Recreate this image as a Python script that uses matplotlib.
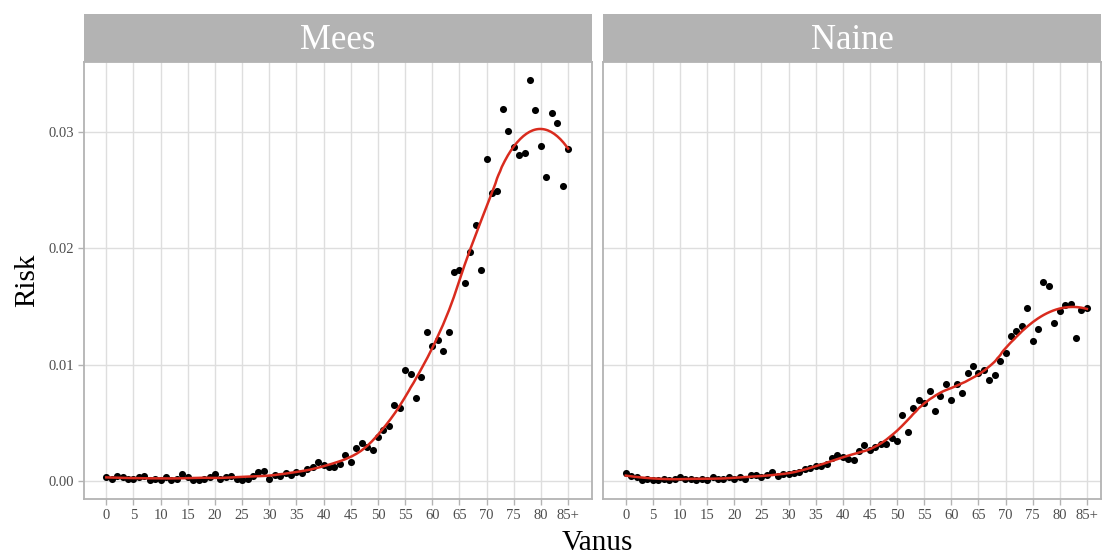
import numpy as np
import matplotlib.pyplot as plt

plt.rcParams['font.family'] = ['Liberation Serif', 'DejaVu Serif']

ages = np.arange(86)
tick_ages = np.arange(0, 86, 5)
tick_labels = [str(a) for a in tick_ages[:-1]] + ['85+']
panels = ['Mees', 'Naine']

mees_risk = [
    .0003, .0002, .0004, .0003, .0002, .0002, .0003, .0004, .0001, .0002,
    .0001, .0003, .0001, .0002, .0006, .0003, .0001, .0001, .0002, .0003,
    .0006, .0002, .0003, .0004, .0002, .0001, .0002, .0004, .0008, .0009,
    .0002, .0005, .0004, .0007, .0005, .0008, .0007, .0010, .0012, .0016,
    .0014, .0012, .0012, .0015, .0022, .0016, .0028, .0033, .0029, .0027,
    .0038, .0044, .0047, .0065, .0063, .0095, .0092, .0071, .0089, .0128,
    .0116, .0121, .0112, .0128, .0180, .0181, .0170, .0197, .0220, .0181,
    .0277, .0248, .0249, .0320, .0301, .0287, .0280, .0282, .0345, .0319,
    .0288, .0261, .0316, .0308, .0254, .0285,
]
naine_risk = [
    .0007, .0004, .0003, .0001, .0002, .0001, .0001, .0002, .0001, .0002,
    .0003, .0002, .0002, .0001, .0002, .0001, .0003, .0002, .0002, .0003,
    .0002, .0003, .0002, .0005, .0005, .0003, .0005, .0008, .0004, .0006,
    .0006, .0007, .0008, .0010, .0011, .0013, .0013, .0015, .0020, .0022,
    .0021, .0019, .0018, .0026, .0031, .0027, .0029, .0032, .0032, .0037,
    .0034, .0057, .0042, .0063, .0070, .0067, .0077, .0060, .0073, .0083,
    .0070, .0083, .0076, .0093, .0099, .0093, .0095, .0087, .0091, .0103,
    .0110, .0125, .0129, .0133, .0149, .0120, .0131, .0171, .0168, .0136,
    .0146, .0151, .0152, .0123, .0147, .0149,
]


def loess(x, y, xs, span=0.28, deg=2, iters=1):
    # local quadratic fit, tricube weights, bisquare robustness steps
    x = np.asarray(x, float)
    y = np.asarray(y, float)
    k = int(np.ceil(span * len(x)))
    rob = np.ones_like(y)

    def fit_at(pts):
        out = []
        for x0 in pts:
            d = np.abs(x - x0)
            h = np.sort(d)[k - 1]
            w = np.clip(1 - (d / h) ** 3, 0, None) ** 3 * rob
            c = np.polyfit(x - x0, y, deg, w=np.sqrt(w))
            out.append(c[-1])
        return np.array(out)

    for _ in range(iters):
        res = y - fit_at(x)
        s = np.median(np.abs(res))
        rob = np.clip(1 - (res / (6 * s)) ** 2, 0, None) ** 2
    return fit_at(xs)


fig = plt.figure(figsize=(11.06, 5.58), dpi=100)
W, H = 1106, 558
# panel boxes in pixels: left, right
boxes = [(84, 592), (603, 1101)]
top, bottom = 62, 499
xlims = [(-4.1, 89.4), (-4.2, 87.6)]

for i, (name, risk) in enumerate(zip(panels, [mees_risk, naine_risk])):
    l, r = boxes[i]
    ax = fig.add_axes([l / W, 1 - bottom / H, (r - l) / W, (bottom - top) / H])
    ax.set_xlim(*xlims[i])
    ax.set_ylim(-0.00155, 0.03602)
    ax.grid(True, color='#DEDEDE', linewidth=1.0)
    ax.set_axisbelow(True)
    for s in ax.spines.values():
        s.set_color('#B3B3B3')
        s.set_linewidth(1.3)
    ax.set_xticks(tick_ages)
    ax.set_xticklabels(tick_labels)
    ax.set_yticks([0, 0.01, 0.02, 0.03])
    if i == 0:
        ax.set_yticklabels(['0.00', '0.01', '0.02', '0.03'])
        ax.set_ylabel('Risk', fontsize=21, labelpad=6)
    else:
        ax.tick_params(axis='y', left=False, labelleft=False)
    ax.tick_params(colors='#B3B3B3', labelcolor='#4D4D4D', labelsize=10.5,
                   length=4, width=1, pad=3)

    ax.scatter(ages, risk, s=26, color='black', zorder=3, linewidths=0)
    xs = np.linspace(0, 85, 300)
    ax.plot(xs, loess(ages, risk, xs), color='#D92B1E', linewidth=1.8, zorder=4)

    # facet strip
    sax = fig.add_axes([l / W, 1 - top / H, (r - l) / W, 48 / H])
    sax.set_facecolor('#B3B3B3')
    sax.set_xticks([])
    sax.set_yticks([])
    for s in sax.spines.values():
        s.set_visible(False)
    sax.text(0.5, 0.45, name, color='white', fontsize=25,
             ha='center', va='center', transform=sax.transAxes)

fig.text(597 / W, 1 - 543 / H, 'Vanus', fontsize=21, ha='center', va='center')

fig.savefig('out.png', dpi=100)
